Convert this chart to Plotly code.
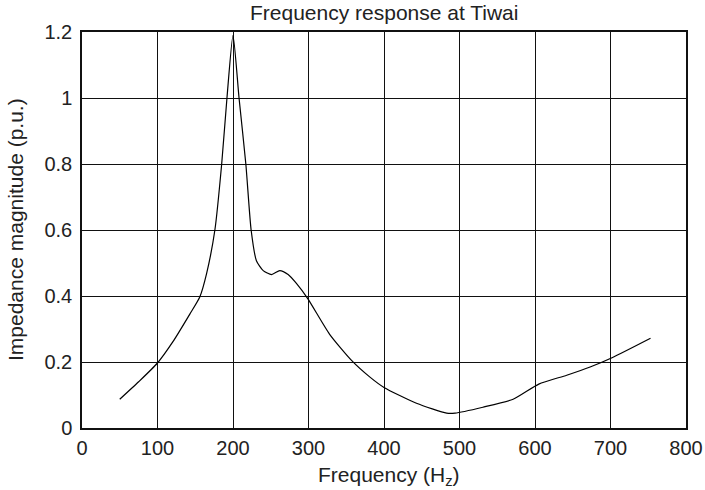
import plotly.graph_objects as go

# Curve (frequency in Hz, impedance in p.u.)
freq = [50, 75, 100, 120, 143, 156, 165, 176, 185, 192, 200, 208, 217, 224,
        231, 240, 251, 262, 273, 284, 299, 328, 357, 381, 400, 443, 483, 494,
        531, 571, 605, 642, 673, 702, 753]
impedance = [0.087, 0.14, 0.197, 0.26, 0.346, 0.397, 0.468, 0.60, 0.80, 1.0,
             1.19, 1.0, 0.80, 0.60, 0.507, 0.477, 0.465, 0.477, 0.465, 0.438,
             0.392, 0.284, 0.205, 0.155, 0.123, 0.075, 0.045, 0.045, 0.063,
             0.087, 0.133, 0.16, 0.185, 0.213, 0.272]

x_ticks = [0, 100, 200, 300, 400, 500, 600, 700, 800]
y_ticks = [0, 0.2, 0.4, 0.6, 0.8, 1.0, 1.2]
y_labels = ["0", "0.2", "0.4", "0.6", "0.8", "1", "1.2"]

fig = go.Figure()
fig.add_trace(go.Scatter(
    x=freq, y=impedance, mode="lines",
    line=dict(color="black", width=1.2, shape="spline", smoothing=0.6),
    showlegend=False, hoverinfo="skip"
))

font = dict(family="Liberation Sans, Arial, sans-serif", size=20, color="#222")

axis_style = dict(showgrid=True, gridcolor="#111", gridwidth=1,
                  showline=True, linecolor="#111", linewidth=1.5, mirror=True,
                  zeroline=False, ticks="", automargin=False)

fig.update_layout(
    width=705, height=490,
    margin=dict(l=82, r=19, t=32, b=62),
    paper_bgcolor="white", plot_bgcolor="white",
    font=font,
    title=dict(text="Frequency response at Tiwai", x=0.545, xanchor="center",
               y=0.989, yanchor="top", font=dict(size=21)),
    xaxis=dict(range=[0, 800], tickvals=x_ticks,
               ticktext=[str(v) for v in x_ticks], ticklabelstandoff=1,
               **axis_style),
    yaxis=dict(range=[0, 1.2], tickvals=y_ticks, ticktext=y_labels,
               ticklabelstandoff=4, **axis_style),
    annotations=[
        dict(text="Frequency (H<sub>z</sub>)", xref="paper", yref="paper",
             x=0.508, y=0, yshift=-48, yanchor="middle", showarrow=False,
             font=dict(size=21)),
        dict(text="Impedance magnitude (p.u.)", xref="paper", yref="paper",
             x=0, xshift=-67, xanchor="center", y=0.5, yanchor="middle",
             textangle=-90, showarrow=False, font=dict(size=21)),
    ],
)

fig.write_html("out.html", config={"displayModeBar": False},
               post_script="document.body.style.margin='0';")
